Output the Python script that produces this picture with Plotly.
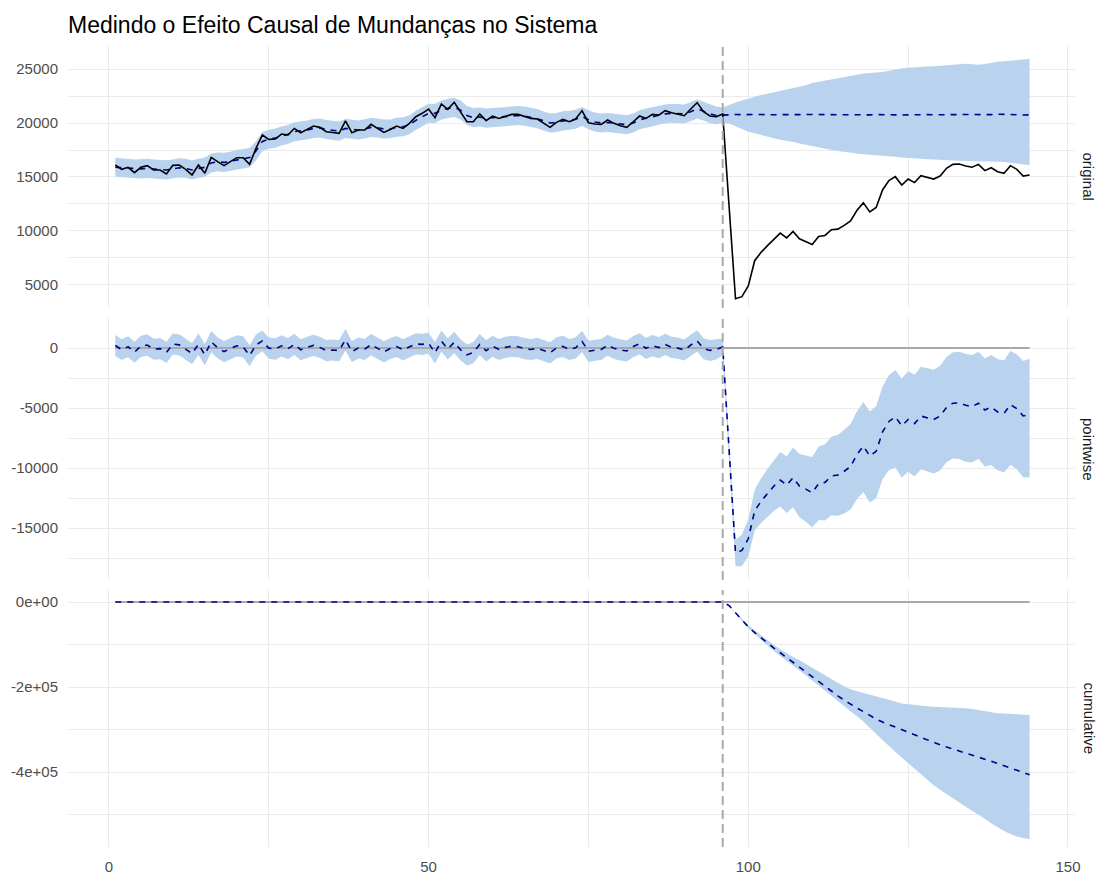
import plotly.graph_objects as go
from plotly.subplots import make_subplots

# ---------------- data ----------------
time = list(range(1, 145))
intervention = 96

response = [
    16110, 15710, 15900, 15400, 15900, 16050, 15650, 15650, 15280, 16080,
    16110, 15710, 15190, 16110, 15340, 16820, 16420, 16050, 16420, 16790,
    16790, 16170, 17650, 18890, 18490, 18520, 18980, 18890, 19500, 19100,
    19410, 19720, 19600, 19190, 19130, 19040, 20190, 19100, 19350, 19350,
    19880, 19500, 19130, 19410, 19720, 19500, 19970, 20590, 20900, 21300,
    20500, 21770, 21270, 21920, 21050, 20120, 20120, 20840, 20220, 20650,
    20430, 20650, 20800, 20800, 20590, 20430, 20370, 19970, 19600, 20060,
    20340, 20120, 20370, 21150, 20030, 19910, 19880, 20280, 19970, 19750,
    19600, 20120, 20650, 20430, 20800, 20740, 21150, 20960, 20840, 20680,
    21300, 21890, 21050, 20650, 20590, 20840, 12280, 3720, 3910, 4900,
    7240, 8020, 8640, 9270, 9800, 9360, 9950, 9270, 9020, 8740,
    9490, 9580, 10110, 10170, 10510, 10920, 11920, 12600, 11760, 12170,
    13800, 14660, 15030, 14260, 14810, 14480, 15120, 14970, 14810, 15090,
    15800, 16170, 16200, 16020, 15900, 16170, 15590, 15860, 15490, 15340,
    16050, 15710, 15090, 15190,
]

pred_mean = [
    15900, 15850, 15800, 15750, 15750, 15800, 15750, 15700, 15650, 15750,
    15850, 15800, 15650, 15800, 15900, 16300, 16400, 16350, 16450, 16600,
    16700, 16800, 17400, 18300, 18500, 18600, 18800, 18950, 19200, 19250,
    19350, 19500, 19550, 19400, 19300, 19250, 19500, 19400, 19350, 19450,
    19600, 19550, 19450, 19450, 19600, 19650, 19850, 20250, 20600, 20900,
    20900, 21200, 21350, 21450, 21200, 20700, 20500, 20550, 20450, 20500,
    20550, 20600, 20650, 20700, 20650, 20550, 20400, 20200, 20000, 20050,
    20200, 20250, 20350, 20600, 20300, 20100, 20000, 20050, 20000, 19900,
    19850, 20000, 20300, 20450, 20600, 20700, 20850, 20900, 20850, 20850,
    21050, 21300, 21100, 20850, 20700, 20750, 20800, 20790, 20780, 20800,
    20810, 20790, 20770, 20780, 20800, 20790, 20760, 20770, 20780, 20800,
    20790, 20780, 20770, 20760, 20780, 20800, 20790, 20770, 20760, 20780,
    20790, 20780, 20760, 20750, 20770, 20780, 20790, 20780, 20770, 20760,
    20750, 20770, 20780, 20790, 20780, 20770, 20760, 20780, 20820, 20790,
    20770, 20760, 20750, 20760,
]

pred_lower = [
    15020, 14980, 14930, 14880, 14870, 14910, 14870, 14820, 14760, 14880,
    14960, 14920, 14770, 14910, 15010, 15410, 15530, 15470, 15570, 15720,
    15820, 15910, 16520, 17430, 17620, 17710, 17920, 18060, 18320, 18370,
    18470, 18610, 18670, 18520, 18420, 18370, 18610, 18520, 18470, 18570,
    18710, 18670, 18570, 18580, 18720, 18770, 18970, 19360, 19720, 20020,
    20010, 20320, 20460, 20570, 20320, 19820, 19620, 19670, 19570, 19620,
    19670, 19720, 19770, 19820, 19760, 19670, 19520, 19320, 19120, 19170,
    19320, 19370, 19470, 19720, 19420, 19220, 19120, 19170, 19120, 19020,
    18970, 19120, 19420, 19570, 19720, 19820, 19970, 20020, 19970, 19980,
    20170, 20420, 20230, 19980, 19880, 20050, 19950, 19700, 19450, 19200,
    19050, 18880, 18720, 18600, 18460, 18380, 18250, 18110, 17980, 17820,
    17700, 17600, 17500, 17420, 17320, 17250, 17180, 17100, 17060, 17030,
    17010, 16940, 16870, 16800, 16750, 16710, 16680, 16650, 16620, 16570,
    16560, 16530, 16510, 16500, 16500, 16490, 16470, 16440, 16410, 16380,
    16300, 16240, 16170, 16090,
]

pred_upper = [
    16780, 16720, 16680, 16630, 16640, 16700, 16620, 16580, 16540, 16630,
    16740, 16690, 16530, 16690, 16800, 17180, 17280, 17240, 17330, 17490,
    17580, 17690, 18290, 19170, 19380, 19490, 19680, 19830, 20080, 20130,
    20240, 20380, 20430, 20290, 20180, 20140, 20390, 20280, 20230, 20340,
    20490, 20430, 20330, 20320, 20480, 20540, 20730, 21130, 21490, 21780,
    21790, 22080, 22230, 22340, 22090, 21580, 21390, 21430, 21340, 21380,
    21440, 21480, 21540, 21580, 21530, 21430, 21290, 21080, 20890, 20930,
    21090, 21130, 21240, 21480, 21190, 20980, 20890, 20930, 20880, 20790,
    20730, 20890, 21180, 21340, 21480, 21590, 21730, 21790, 21740, 21720,
    21940, 22180, 21980, 21730, 21540, 21450, 21700, 21900, 22100, 22280,
    22420, 22600, 22720, 22850, 23000, 23100, 23220, 23380, 23500, 23700,
    23820, 23950, 24050, 24150, 24300, 24380, 24500, 24600, 24640, 24680,
    24720, 24850, 24980, 25050, 25120, 25180, 25220, 25240, 25260, 25300,
    25320, 25380, 25450, 25490, 25440, 25400, 25480, 25600, 25680, 25720,
    25780, 25820, 25880, 25950,
]

# cumulative-effect interval, post period (t = 97 .. 144)
cum_lower_post = [
    -9500, -27500, -45000, -62000, -75000, -89000, -103000, -115500, -127000, -139000,
    -151000, -161000, -172000, -184000, -196000, -208000, -220000, -232000, -244000, -256000,
    -268500, -281000, -296000, -311000, -325000, -339000, -353000, -366000, -380000, -394000,
    -407000, -420000, -431000, -442000, -452000, -463000, -474000, -482000, -491000, -500000,
    -510000, -521000, -531000, -539000, -546000, -552000, -555500, -558400,
]
cum_upper_post = [
    -8000, -24500, -40000, -54000, -66500, -78500, -91000, -101000, -111000, -120500,
    -129500, -137000, -146000, -155000, -164000, -173000, -182500, -190000, -198000, -205000,
    -210000, -214000, -218000, -221000, -224500, -229000, -234000, -238500, -240500, -242000,
    -243500, -245500, -246500, -247000, -247500, -248500, -249500, -250200, -251500, -253500,
    -256500, -259500, -262000, -262500, -263000, -263800, -264800, -265900,
]

panel_labels = ["original", "pointwise", "cumulative"]
title_text = "Medindo o Efeito Causal de Mundanças no Sistema"
x_ticks = [0, 50, 100, 150]
y1_ticks = [5000, 10000, 15000, 20000, 25000]
y2_ticks = [0, -5000, -10000, -15000]
y3_ticks = [0, -200000, -400000]
y3_ticktext = ["0e+00", "-2e+05", "-4e+05"]

# ---------------- derived series (CausalImpact definitions) ----------------
point_effect = [r - p for r, p in zip(response, pred_mean)]
point_lower = [r - u for r, u in zip(response, pred_upper)]
point_upper = [r - l for r, l in zip(response, pred_lower)]
cum_effect = []
running = 0
for t, e in zip(time, point_effect):
    if t > intervention:
        running += e
    cum_effect.append(running)
post_time = [t for t in time if t > intervention]
cum_band_x = [intervention] + post_time
cum_band_lo = [0] + cum_lower_post
cum_band_hi = [0] + cum_upper_post

# ---------------- styling ----------------
BAND = "#B9D3EE"
NAVY = "#00008B"
GREY = "#A9A9A9"
GRID = "#EBEBEB"
FONT = "Liberation Sans, Arial, sans-serif"
DASH_BLUE = "6px,6px"

fig = make_subplots(rows=3, cols=1, shared_xaxes=True)


def band(x, lo, hi, row):
    fig.add_trace(go.Scatter(x=x, y=lo, mode="lines", line=dict(width=0, color=BAND),
                             showlegend=False, hoverinfo="skip"), row=row, col=1)
    fig.add_trace(go.Scatter(x=x, y=hi, mode="lines", line=dict(width=0, color=BAND),
                             fill="tonexty", fillcolor=BAND,
                             showlegend=False, hoverinfo="skip"), row=row, col=1)


# panel 1: original
band(time, pred_lower, pred_upper, 1)
fig.add_trace(go.Scatter(x=time, y=pred_mean, mode="lines",
                         line=dict(color=NAVY, width=1.6, dash=DASH_BLUE),
                         showlegend=False), row=1, col=1)
fig.add_trace(go.Scatter(x=time, y=response, mode="lines",
                         line=dict(color="black", width=1.6),
                         showlegend=False), row=1, col=1)

# panel 2: pointwise
band(time, point_lower, point_upper, 2)
fig.add_trace(go.Scatter(x=[time[0], time[-1]], y=[0, 0], mode="lines",
                         line=dict(color=GREY, width=2), showlegend=False), row=2, col=1)
fig.add_trace(go.Scatter(x=time, y=point_effect, mode="lines",
                         line=dict(color=NAVY, width=1.6, dash=DASH_BLUE),
                         showlegend=False), row=2, col=1)

# panel 3: cumulative
band(cum_band_x, cum_band_lo, cum_band_hi, 3)
fig.add_trace(go.Scatter(x=[time[0], time[-1]], y=[0, 0], mode="lines",
                         line=dict(color=GREY, width=2), showlegend=False), row=3, col=1)
fig.add_trace(go.Scatter(x=time, y=cum_effect, mode="lines",
                         line=dict(color=NAVY, width=1.6, dash=DASH_BLUE),
                         showlegend=False), row=3, col=1)

# vertical intervention line in each panel
for xr, yref in [("x", "y domain"), ("x2", "y2 domain"), ("x3", "y3 domain")]:
    fig.add_shape(type="line", x0=intervention, x1=intervention, y0=0, y1=1,
                  xref=xr, yref=yref, line=dict(color=GREY, width=2, dash="9px,5px"))

tickfont = dict(family=FONT, size=15, color="#4D4D4D")
for i in (1, 2, 3):
    fig.update_xaxes(row=i, col=1, range=[-6.4, 151.1], showgrid=True, gridcolor=GRID,
                     gridwidth=1, zeroline=False, showline=False, ticks="",
                     automargin=False, ticklabelstandoff=9,
                     tickmode="array", tickvals=x_ticks, ticktext=[str(v) for v in x_ticks],
                     showticklabels=(i == 3), tickfont=tickfont,
                     minor=dict(tickmode="array", tickvals=[25, 75, 125], showgrid=True,
                                gridcolor=GRID, gridwidth=0.5, ticks=""))

fig.update_yaxes(row=1, col=1, range=[2860, 27233], domain=[0.6721, 1.0],
                 tickmode="array", tickvals=y1_ticks, ticktext=[str(v) for v in y1_ticks],
                 minor=dict(tickmode="array", tickvals=[7500, 12500, 17500, 22500],
                            showgrid=True, gridcolor=GRID, gridwidth=0.5, ticks=""))
fig.update_yaxes(row=2, col=1, range=[-19333, 2500], domain=[0.3329, 0.6596],
                 tickmode="array", tickvals=y2_ticks, ticktext=[str(v) for v in y2_ticks],
                 minor=dict(tickmode="array", tickvals=[-2500, -7500, -12500, -17500],
                            showgrid=True, gridcolor=GRID, gridwidth=0.5, ticks=""))
fig.update_yaxes(row=3, col=1, range=[-576470, 28235], domain=[0.0, 0.3204],
                 tickmode="array", tickvals=y3_ticks, ticktext=y3_ticktext,
                 minor=dict(tickmode="array", tickvals=[-100000, -300000, -500000],
                            showgrid=True, gridcolor=GRID, gridwidth=0.5, ticks=""))
fig.update_yaxes(showgrid=True, gridcolor=GRID, gridwidth=1, zeroline=False,
                 showline=False, ticks="", tickfont=tickfont, automargin=False,
                 ticklabelstandoff=9)

# facet strip labels on the right
centers = [(0.6721 + 1.0) / 2, (0.3329 + 0.6596) / 2, 0.3204 / 2]
for lab, yc in zip(panel_labels, centers):
    fig.add_annotation(text=lab, x=1, y=yc, xref="paper", yref="paper",
                       xanchor="center", yanchor="middle", xshift=14, textangle=90,
                       showarrow=False, font=dict(family=FONT, size=15, color="#1A1A1A"))

fig.update_layout(
    width=1098, height=875,
    margin=dict(l=68, r=23, t=45, b=28, autoexpand=False),
    paper_bgcolor="white", plot_bgcolor="white",
    title=dict(text=title_text, x=68 / 1098, xanchor="left", y=1 - 25 / 875,
               yanchor="middle", font=dict(family=FONT, size=23, color="black")),
    showlegend=False,
    hovermode=False,
)

fig.write_html("out.html",
               config={"displayModeBar": False},
               post_script="document.body.style.margin='0';document.body.style.overflow='hidden';")
